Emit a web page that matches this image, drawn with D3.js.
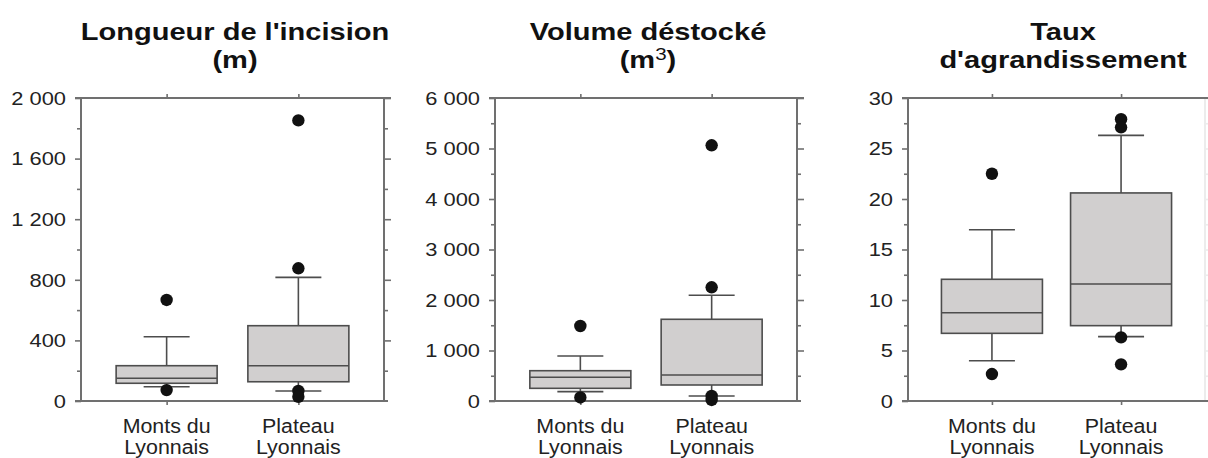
<!DOCTYPE html>
<html lang="fr">
<head>
<meta charset="UTF-8">
<title>Incisions - boîtes à moustaches</title>
<script src="https://cdnjs.cloudflare.com/ajax/libs/d3/7.8.5/d3.min.js"></script>
<style>
    body { margin: 0; background: #fff; }
    svg { display: block; font-family: "Liberation Sans", Arial, sans-serif; }
    .frame { stroke: #707070; stroke-width: 2; fill: none; }
    .axis path.domain { display: none; }
    .axis line { stroke: #707070; stroke-width: 1.6; }
    .axis text { fill: #222; font-size: 17.5px; }
    .box { fill: #d1cfcf; stroke: #4d4d4d; stroke-width: 1.6; }
    .whisker { stroke: #4d4d4d; stroke-width: 1.6; }
    .outlier { fill: #111; }
</style>
</head>
<body>
<svg id="chart" width="1208" height="458"></svg>
<script>
const categories = [["Monts du", "Lyonnais"], ["Plateau", "Lyonnais"]];

// each box: [whisker low, Q1, median, Q3, whisker high]
const lengthBoxes = [[94, 117, 150, 233, 424], [66, 127, 233, 497, 816]];
const lengthOutliers = [[667, 72], [1852, 876, 66, 28]];
const lengthTicks = [0, 400, 800, 1200, 1600, 2000];

const volumeBoxes = [[185, 251, 469, 600, 891], [99, 317, 515, 1618, 2093]];
const volumeOutliers = [[1485, 70], [5063, 2251, 99, 20]];
const volumeTicks = [0, 1000, 2000, 3000, 4000, 5000, 6000];

const rateBoxes = [[3.99, 6.7, 8.74, 12.05, 16.96], [6.37, 7.46, 11.58, 20.6, 26.3]];
const rateOutliers = [[22.5, 2.67], [27.9, 27.1, 6.3, 3.63]];
const rateTicks = [0, 5, 10, 15, 20, 25, 30];

const panels = [
    { title: ["Longueur de l'incision", "(m)"], boxes: lengthBoxes, outliers: lengthOutliers, ticks: lengthTicks,
      left: 81, right: 384, titleX: 235, rightStroke: "#707070" },
    { title: ["Volume déstocké", "(m3)"], boxes: volumeBoxes, outliers: volumeOutliers, ticks: volumeTicks,
      left: 495, right: 797, titleX: 648, rightStroke: "#707070" },
    { title: ["Taux", "d'agrandissement"], boxes: rateBoxes, outliers: rateOutliers, ticks: rateTicks,
      left: 908, right: 1205, titleX: 1063, rightStroke: "#ececec" }
];

const plotTop = 98, plotBottom = 401;
const fr = d3.formatLocale({ decimal: ",", thousands: "\u00a0", grouping: [3], currency: ["", "€"] });
const fmt = fr.format(",d");

const svg = d3.select("#chart");

panels.forEach(p => {
    const g = svg.append("g");
    const maxV = p.ticks[p.ticks.length - 1];
    const step = p.ticks[1] - p.ticks[0];
    const minor = d3.range(step / 2, maxV, step);

    const y = d3.scaleLinear().domain([0, maxV]).range([plotBottom, plotTop]);
    const x = d3.scalePoint().domain(d3.range(categories.length)).range([p.left, p.right]).padding(0.65);
    const boxW = 101, capW = 46;

    // title
    p.title.forEach((t, i) => {
        const txt = g.append("text")
            .attr("transform", `translate(${p.titleX},${40 + i * 28}) scale(1.21,1)`)
            .attr("text-anchor", "middle")
            .style("font-size", "24px")
            .style("font-weight", "bold")
            .style("fill", "#111");
        if (t === "(m3)") {
            txt.append("tspan").text("(m");
            txt.append("tspan").text("3").style("font-size", "17px").attr("dy", -8).style("font-weight", "normal");
            txt.append("tspan").text(")").attr("dy", 8);
        } else {
            txt.text(t);
        }
    });

    // left axis
    const yAxis = g.append("g").attr("class", "axis")
        .attr("transform", `translate(${p.left},0)`)
        .call(d3.axisLeft(y).tickValues(p.ticks).tickSize(6).tickPadding(0).tickFormat(fmt));
    yAxis.selectAll("text")
        .attr("x", 0).attr("dy", "0.36em")
        .attr("transform", "translate(-15,0) scale(1.25,1)");
    g.append("g").attr("class", "axis")
        .attr("transform", `translate(${p.left},0)`)
        .call(d3.axisLeft(y).tickValues(minor).tickSize(4).tickFormat(""));

    // right axis
    const rAxis = g.append("g").attr("class", "axis")
        .attr("transform", `translate(${p.right},0)`);
    rAxis.call(d3.axisRight(y).tickValues(p.ticks.slice(1)).tickSize(7).tickFormat(""));
    rAxis.append("g").call(d3.axisRight(y).tickValues(minor).tickSize(4).tickFormat(""));
    rAxis.selectAll("path.domain").remove();
    rAxis.selectAll("line").style("stroke", p.rightStroke);

    // top and bottom category ticks
    g.append("g").attr("class", "axis")
        .attr("transform", `translate(0,${plotTop})`)
        .call(d3.axisTop(x).tickSize(4).tickFormat(""));
    g.append("g").attr("class", "axis")
        .attr("transform", `translate(0,${plotBottom})`)
        .call(d3.axisBottom(x).tickSize(4).tickFormat(""));

    // frame
    g.append("line").attr("class", "frame")
        .attr("x1", p.left).attr("x2", p.left).attr("y1", plotTop).attr("y2", plotBottom);
    g.append("line").attr("class", "frame")
        .attr("x1", p.right).attr("x2", p.right).attr("y1", plotTop).attr("y2", plotBottom)
        .style("stroke", p.rightStroke);
    g.append("line").attr("class", "frame")
        .attr("x1", p.left - 6).attr("x2", p.right + 7).attr("y1", plotTop).attr("y2", plotTop);
    g.append("line").attr("class", "frame")
        .attr("x1", p.left - 6).attr("x2", p.right + 4).attr("y1", plotBottom).attr("y2", plotBottom);

    // boxes
    p.boxes.forEach((b, i) => {
        const cx = x(i);
        const [lo, q1, med, q3, hi] = b;
        g.append("line").attr("class", "whisker")
            .attr("x1", cx).attr("x2", cx).attr("y1", y(q3)).attr("y2", y(hi));
        g.append("line").attr("class", "whisker")
            .attr("x1", cx).attr("x2", cx).attr("y1", y(q1)).attr("y2", y(lo));
        g.append("line").attr("class", "whisker")
            .attr("x1", cx - capW / 2).attr("x2", cx + capW / 2).attr("y1", y(hi)).attr("y2", y(hi));
        g.append("line").attr("class", "whisker")
            .attr("x1", cx - capW / 2).attr("x2", cx + capW / 2).attr("y1", y(lo)).attr("y2", y(lo));
        g.append("rect").attr("class", "box")
            .attr("x", cx - boxW / 2).attr("width", boxW)
            .attr("y", y(q3)).attr("height", y(q1) - y(q3));
        g.append("line").attr("class", "whisker")
            .attr("x1", cx - boxW / 2).attr("x2", cx + boxW / 2).attr("y1", y(med)).attr("y2", y(med));

        g.selectAll(null).data(p.outliers[i]).enter().append("circle")
            .attr("class", "outlier")
            .attr("cx", cx).attr("cy", d => y(d)).attr("r", 6.2);

        // category label
        categories[i].forEach((t, j) => {
            g.append("text")
                .attr("transform", `translate(${cx},${433 + j * 21}) scale(1.07,1)`)
                .attr("text-anchor", "middle")
                .style("font-size", "20px")
                .style("fill", "#222")
                .text(t);
        });
    });
});
</script>
</body>
</html>
